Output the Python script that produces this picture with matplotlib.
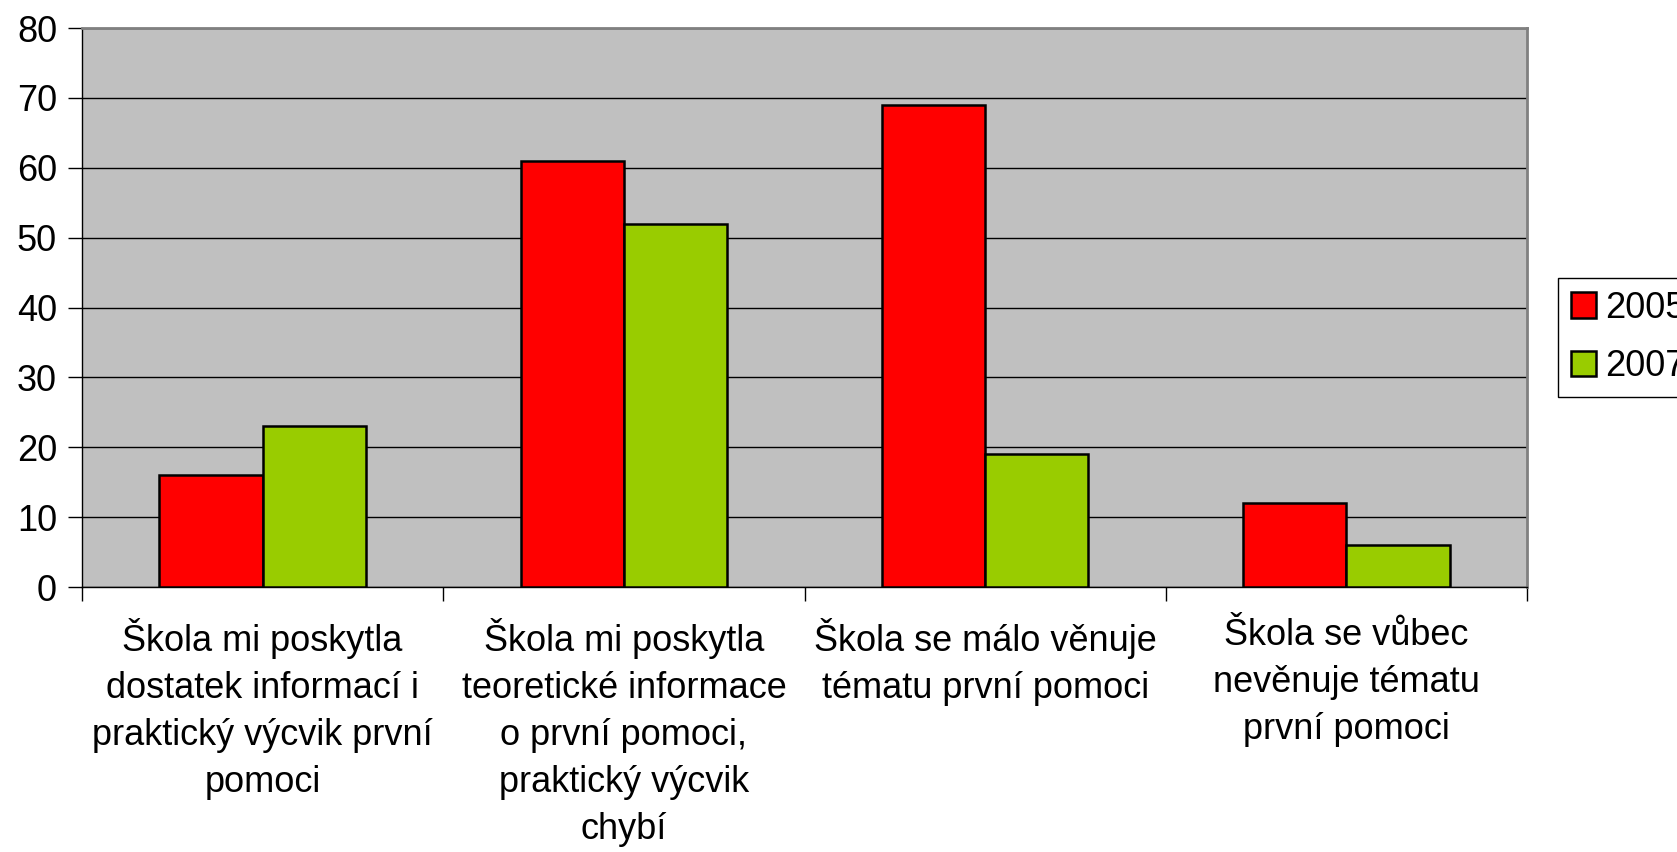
import matplotlib.pyplot as plt
import numpy as np

plt.rcParams['font.family'] = ['Liberation Sans', 'DejaVu Sans']

# data
categories = [
    "Škola mi poskytla\ndostatek informací i\npraktický výcvik první\npomoci",
    "Škola mi poskytla\nteoretické informace\no první pomoci,\npraktický výcvik\nchybí",
    "Škola se málo věnuje\ntématu první pomoci",
    "Škola se vůbec\nnevěnuje tématu\nprvní pomoci",
]
years = ["2005", "2007"]
values_2005 = [16, 61, 69, 12]
values_2007 = [23, 52, 19, 6]
yticks = [0, 10, 20, 30, 40, 50, 60, 70, 80]

colors = ["#FF0000", "#99CC00"]

fig = plt.figure(figsize=(16.77, 8.52), dpi=100)
ax = fig.add_axes([0.0489, 0.311, 0.9106 - 0.0489, 0.967 - 0.311])
ax.set_facecolor("#C0C0C0")

x = np.arange(len(categories))
w = 1 / 3.5
ax.bar(x - w / 2, values_2005, w, color=colors[0], edgecolor="black",
       linewidth=1.8, label=years[0], zorder=3)
ax.bar(x + w / 2, values_2007, w, color=colors[1], edgecolor="black",
       linewidth=1.8, label=years[1], zorder=3)

ax.set_xlim(-0.5, len(categories) - 0.5)
ax.set_ylim(0, 80)
ax.set_yticks(yticks)
ax.yaxis.grid(True, color="black", linewidth=1.0, zorder=1)
ax.set_axisbelow(True)

ax.set_xticks(x)
ax.set_xticklabels(categories, fontsize=26, linespacing=1.45, va="top")
ax.set_xticks(np.arange(len(categories) + 1) - 0.5, minor=True)
ax.tick_params(axis="x", which="major", length=0, pad=22)
ax.tick_params(axis="x", which="minor", length=10, width=1, direction="out")
ax.tick_params(axis="y", labelsize=26, length=10, width=1, pad=8)

for side in ["left", "bottom"]:
    ax.spines[side].set_color("black")
    ax.spines[side].set_linewidth(1)
for side in ["top", "right"]:
    ax.spines[side].set_color("#808080")
    ax.spines[side].set_linewidth(2)

leg = fig.legend(loc="upper left", bbox_to_anchor=(1558 / 1677, 1 - 278 / 852),
                 borderaxespad=0, fontsize=26, frameon=True, fancybox=False,
                 edgecolor="black", framealpha=1, handlelength=0.7,
                 handleheight=0.7, handletextpad=0.25, labelspacing=0.65,
                 borderpad=0.35)
leg.get_frame().set_linewidth(1)

fig.savefig("out.png", dpi=100)
